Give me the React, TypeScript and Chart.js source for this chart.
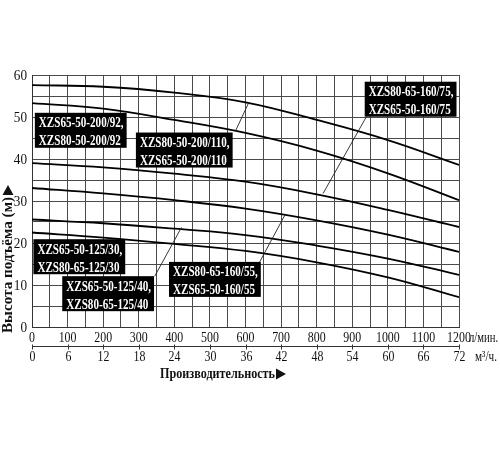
import React, { useEffect, useRef } from 'react';
import { Chart, registerables } from 'chart.js';

Chart.register(...registerables);

// Flow, l/min
const flowLpm = [0, 200, 400, 600, 800, 1000, 1200];
// Head, m
const head200_110 = [57.6, 57.2, 55.8, 53.5, 49.3, 44.5, 38.6];
const head200_92 = [53.3, 52.0, 49.3, 46.2, 42.0, 36.6, 30.2];
const head160_75 = [39.0, 38.0, 36.5, 34.6, 31.6, 27.9, 23.8];
const head160_55 = [33.1, 31.8, 30.2, 28.2, 25.4, 22.0, 17.9];
const head125_40 = [25.6, 24.7, 23.4, 21.9, 19.4, 16.3, 12.4];
const head125_30 = [22.5, 21.3, 19.8, 18.1, 15.4, 11.8, 7.1];

const yTickLabels = [0, 10, 20, 30, 40, 50, 60];
const xTickLpm = [0, 100, 200, 300, 400, 500, 600, 700, 800, 900, 1000, 1100, 1200];
const xTickM3h = [0, 6, 12, 18, 24, 30, 36, 42, 48, 54, 60, 66, 72];

const seriesList = [head200_110, head200_92, head160_75, head160_55, head125_40, head125_30];

// label boxes: top-left anchor in data units (l/min, m)
const labelBoxes = [
  { lines: ['XZS65-50-200/92,', 'XZS80-50-200/92'], x: 8, y: 51.0 },
  { lines: ['XZS80-50-200/110,', 'XZS65-50-200/110'], x: 292, y: 46.3 },
  { lines: ['XZS80-65-160/75,', 'XZS65-50-160/75'], x: 935, y: 58.4 },
  { lines: ['XZS65-50-125/30,', 'XZS80-65-125/30'], x: 4, y: 20.9 },
  { lines: ['XZS65-50-125/40,', 'XZS80-65-125/40'], x: 85, y: 12.1 },
  { lines: ['XZS80-65-160/55,', 'XZS65-50-160/55'], x: 385, y: 15.5 },
];

// leader lines in data units
const leaders = [
  [609, 53.4, 572, 46.7],
  [940, 50.1, 818, 31.8],
  [345, 12.1, 420, 23.7],
  [640, 15.5, 711, 26.7],
];

function drawScaledText(ctx: CanvasRenderingContext2D, text: string, x: number, y: number, sx: number, align: CanvasTextAlign) {
  ctx.save();
  ctx.translate(x, y);
  ctx.scale(sx, 1);
  ctx.textAlign = align;
  ctx.fillText(text, 0, 0);
  ctx.restore();
}

function drawFitText(ctx: CanvasRenderingContext2D, text: string, x: number, y: number, width: number) {
  const w = ctx.measureText(text).width;
  drawScaledText(ctx, text, x, y, width / w, 'left');
}

const decorPlugin = {
  id: 'decor',
  afterDatasetsDraw(chart: any) {
    const { ctx, chartArea, scales } = chart;
    const xs = scales.x;
    const ys = scales.y;
    ctx.save();
    ctx.fillStyle = '#111';
    ctx.textBaseline = 'middle';

    // y tick labels
    ctx.font = '15px "Liberation Serif"';
    yTickLabels.forEach((v) => {
      drawScaledText(ctx, String(v), chartArea.left - 5, ys.getPixelForValue(v) + 1, 0.88, 'right');
    });

    // x tick labels, l/min
    ctx.font = '14px "Liberation Serif"';
    const row1 = chartArea.bottom + 11;
    xTickLpm.forEach((v) => {
      drawScaledText(ctx, String(v), xs.getPixelForValue(v), row1, 0.85, 'center');
    });
    drawScaledText(ctx, 'л/мин.', xs.getPixelForValue(1200) + 10, row1, 0.76, 'left');

    // second axis, m3/h
    const y2 = Math.round(chartArea.bottom + 19) + 0.5;
    ctx.strokeStyle = '#333';
    ctx.lineWidth = 1;
    ctx.beginPath();
    ctx.moveTo(chartArea.left, y2);
    ctx.lineTo(chartArea.right, y2);
    ctx.stroke();
    const row2 = chartArea.bottom + 30;
    xTickM3h.forEach((v) => {
      const px = Math.round(xs.getPixelForValue((v * 1000) / 60)) + 0.5;
      ctx.beginPath();
      ctx.moveTo(px, y2 - 2);
      ctx.lineTo(px, y2 + 3);
      ctx.stroke();
      drawScaledText(ctx, String(v), px, row2, 0.85, 'center');
    });
    drawScaledText(ctx, 'м³/ч.', xs.getPixelForValue(1200) + 16, row2, 0.8, 'left');

    // axis titles
    ctx.font = 'bold 14px "Liberation Serif"';
    const tY = chartArea.bottom + 47;
    drawFitText(ctx, 'Производительность', 160, tY, 115);
    ctx.beginPath();
    ctx.moveTo(276, tY - 5.5);
    ctx.lineTo(286, tY);
    ctx.lineTo(276, tY + 5.5);
    ctx.closePath();
    ctx.fill();

    ctx.save();
    ctx.translate(8, 333);
    ctx.rotate(-Math.PI / 2);
    drawFitText(ctx, 'Высота подъёма (м)', 0, 0, 136);
    ctx.beginPath();
    ctx.moveTo(138, -5.5);
    ctx.lineTo(148, 0);
    ctx.lineTo(138, 5.5);
    ctx.closePath();
    ctx.fill();
    ctx.restore();

    // leader lines
    ctx.strokeStyle = '#222';
    ctx.lineWidth = 0.9;
    leaders.forEach(([x1, y1, x2, y2b]) => {
      ctx.beginPath();
      ctx.moveTo(xs.getPixelForValue(x1), ys.getPixelForValue(y1));
      ctx.lineTo(xs.getPixelForValue(x2), ys.getPixelForValue(y2b));
      ctx.stroke();
    });

    // label boxes
    ctx.font = 'bold 15px "Liberation Serif"';
    const sx = 0.74;
    labelBoxes.forEach((b) => {
      const left = xs.getPixelForValue(b.x);
      const top = ys.getPixelForValue(b.y);
      const tw = Math.max(...b.lines.map((l) => ctx.measureText(l).width)) * sx;
      ctx.fillStyle = '#000';
      ctx.fillRect(left, top, tw + 7, 35);
      ctx.fillStyle = '#fff';
      b.lines.forEach((l, i) => {
        drawScaledText(ctx, l, left + 4, top + 10.5 + i * 18, sx, 'left');
      });
    });
    ctx.restore();
  },
};

export default function App() {
  const canvasRef = useRef<HTMLCanvasElement | null>(null);

  useEffect(() => {
    document.body.style.margin = '0';
    const canvas = canvasRef.current;
    if (!canvas) return;
    const chart = new Chart(canvas, {
      type: 'line',
      data: {
        datasets: seriesList.map((s) => ({
          data: s.map((h, i) => ({ x: flowLpm[i], y: h })),
          borderColor: '#000',
          borderWidth: 1.8,
          pointRadius: 0,
          fill: false,
          tension: 0.4,
        })),
      },
      options: {
        animation: false,
        responsive: true,
        maintainAspectRatio: false,
        layout: { padding: { left: 32, top: 75, right: 41, bottom: 123 } },
        plugins: { legend: { display: false }, tooltip: { enabled: false } },
        scales: {
          x: {
            type: 'linear',
            min: 0,
            max: 1200,
            ticks: { display: false, stepSize: 50 },
            grid: { color: '#4a4a4a', lineWidth: 1, drawTicks: false },
            border: { color: '#333', width: 1 },
          },
          y: {
            type: 'linear',
            min: 0,
            max: 60,
            ticks: { display: false, stepSize: 5 },
            grid: { color: '#4a4a4a', lineWidth: 1, drawTicks: false },
            border: { color: '#333', width: 1 },
          },
        },
      },
      plugins: [decorPlugin],
    });
    return () => chart.destroy();
  }, []);

  return (
    <div style={{ width: 500, height: 450, position: 'relative', background: '#fff' }}>
      <canvas ref={canvasRef} />
    </div>
  );
}
